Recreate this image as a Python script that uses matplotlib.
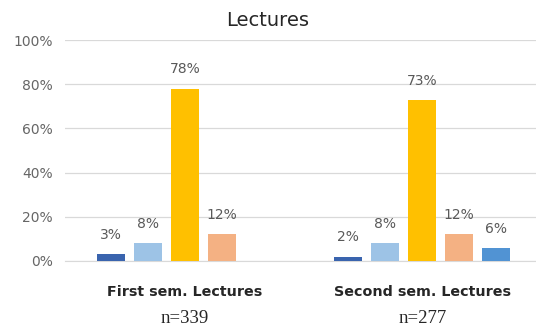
import numpy as np
import matplotlib
matplotlib.use("Agg")
import matplotlib.pyplot as plt

groups = ["First sem. Lectures", "Second sem. Lectures"]
counts = ["n=339", "n=277"]
# five answer categories per group (first group has no 5th bar)
series = [
    [3, 2],
    [8, 8],
    [78, 73],
    [12, 12],
    [None, 6],
]
colors = ["#3A64AE", "#9DC3E6", "#FFC000", "#F4B183", "#5193D3"]

fig = plt.figure(figsize=(5.36, 3.31), dpi=100)
ax = fig.add_axes([65 / 536, 1 - 261 / 331, 471 / 536, 221 / 331])

x = np.arange(len(groups))
width = 0.118
step = 0.156
for i, vals in enumerate(series):
    off = (i - 2) * step
    for j, v in enumerate(vals):
        if v is None:
            continue
        ax.bar(x[j] + off, v, width, color=colors[i], zorder=3)
        ax.text(x[j] + off, v + 5.5, f"{v}%", ha="center", va="bottom",
                fontsize=10, color="#595959")

ax.set_xlim(-0.506, 1.48)
ax.set_ylim(0, 100)
ax.set_yticks(range(0, 101, 20))
ax.set_yticklabels([f"{t}%" for t in range(0, 101, 20)], fontsize=10, color="#666666")
ax.yaxis.grid(True, color="#D9D9D9", linewidth=0.9, zorder=0)
ax.tick_params(axis="y", length=0, pad=9)
ax.tick_params(axis="x", length=0)
ax.set_xticks([])
for s in ["top", "right", "left"]:
    ax.spines[s].set_visible(False)
ax.spines["bottom"].set_color("#D9D9D9")

for j, g in enumerate(groups):
    ax.text(x[j], -14, g, ha="center", va="center", fontsize=10.3,
            fontweight="bold", color="#262626", clip_on=False)
    ax.text(x[j], -26, counts[j], ha="center", va="center", fontsize=13.5,
            family="Liberation Serif", color="#262626", clip_on=False)

fig.text(0.5, 1 - 20 / 331, "Lectures", ha="center", va="center", fontsize=14, color="#262626")

fig.savefig("out.png", dpi=100)
